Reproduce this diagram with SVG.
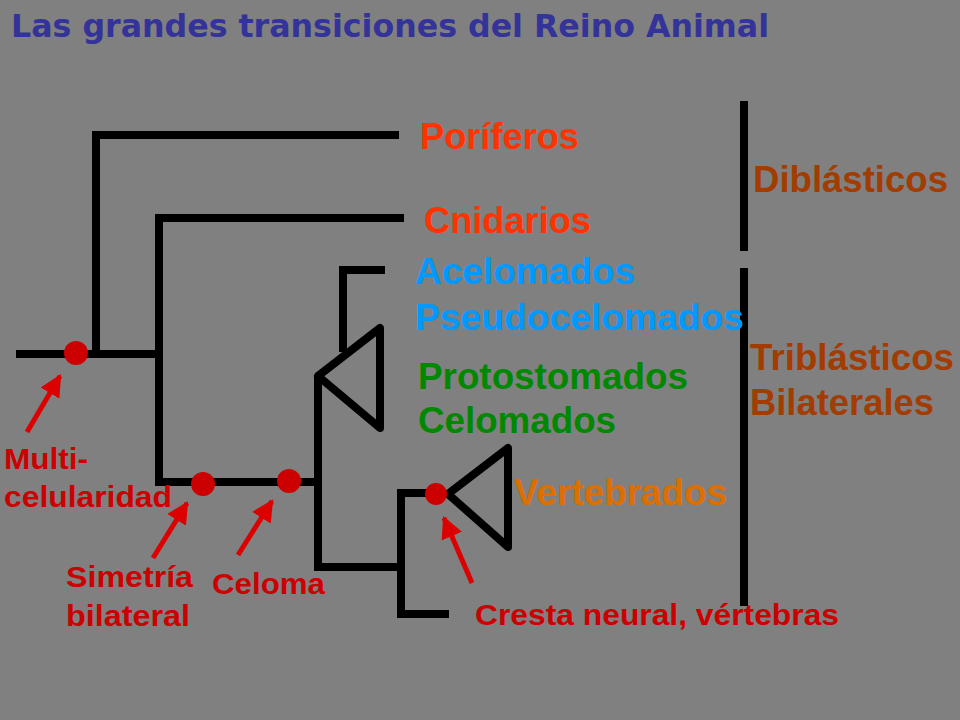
<svg xmlns="http://www.w3.org/2000/svg" width="960" height="720" viewBox="0 0 960 720">
<defs>
<style>
.br{fill:none;stroke:#000;stroke-width:8;stroke-linecap:square;stroke-linejoin:miter}
.tri{fill:none;stroke:#000;stroke-width:8;stroke-linejoin:round;stroke-linecap:round}
.big{font-family:"Liberation Sans",Arial,sans-serif;font-weight:bold;font-size:36px}
.red{font-family:"Liberation Sans",Arial,sans-serif;font-weight:bold;font-size:29px;fill:#cc0000}
.dot{fill:#cc0000}
.arr{stroke:#dd0000;stroke-width:5;fill:none;marker-end:url(#ah)}
</style>
<marker id="ah" viewBox="0 0 10 10" refX="9" refY="5" markerWidth="4.4" markerHeight="4.4" orient="auto" markerUnits="strokeWidth">
<path d="M0,0 L10,5 L0,10 z" fill="#dd0000"/>
</marker>
</defs>
<rect x="0" y="0" width="960" height="720" fill="#808080"/>
<text x="11" y="37" font-family="DejaVu Sans, Verdana, sans-serif" font-weight="bold" font-size="32" fill="#333399" textLength="758" lengthAdjust="spacingAndGlyphs">Las grandes transiciones del Reino Animal</text>

<g id="connectors">
<path class="br" d="M20,354 H158"/>
<path class="br" d="M96,354 V135 H395"/>
<path class="br" d="M159,354 V218 H400"/>
<path class="br" d="M159,354 V482 H316"/>
<path class="br" d="M318,380 V567 H398"/>
<path class="br" d="M343,348 V270 H381"/>
<path class="br" d="M401,567 V493 H430"/>
<path class="br" d="M401,567 V614 H445"/>
<polygon class="tri" points="318,376 380,328 380,428"/>
<polygon class="tri" points="448,494 508,448 508,547"/>
<path class="br" d="M744,105 V247" stroke-linecap="butt"/>
<path class="br" d="M744,272 V602" stroke-linecap="butt"/>
<path class="arr" d="M27,432 L60,376"/>
<path class="arr" d="M153,558 L187,503"/>
<path class="arr" d="M238,555 L272,501"/>
<path class="arr" d="M472,583 L444,518"/>
</g>

<g id="markers">
<circle class="dot" cx="76" cy="353" r="12"/>
<circle class="dot" cx="203" cy="484" r="12"/>
<circle class="dot" cx="289" cy="481" r="12"/>
<circle class="dot" cx="436" cy="494" r="11"/>
</g>

<g id="n-poriferos"><text class="big" x="420" y="149" fill="#ff3300" textLength="159" lengthAdjust="spacingAndGlyphs">Poríferos</text></g>
<g id="n-cnidarios"><text class="big" x="424" y="233" fill="#ff3300" textLength="167" lengthAdjust="spacingAndGlyphs">Cnidarios</text></g>
<g id="n-acelomados"><text class="big" x="415" y="284" fill="#0099ff" textLength="220" lengthAdjust="spacingAndGlyphs">Acelomados</text>
<text class="big" x="415" y="330" fill="#0099ff" textLength="329" lengthAdjust="spacingAndGlyphs">Pseudocelomados</text></g>
<g id="n-protostomados"><text class="big" x="418" y="389" fill="#008800" textLength="270" lengthAdjust="spacingAndGlyphs">Protostomados</text>
<text class="big" x="418" y="433" fill="#008800" textLength="198" lengthAdjust="spacingAndGlyphs">Celomados</text></g>
<g id="n-vertebrados"><text class="big" x="514" y="505" fill="#dd6e00" textLength="213" lengthAdjust="spacingAndGlyphs">Vertebrados</text></g>
<g id="n-diblasticos"><text class="big" x="753" y="192" fill="#a33c00" textLength="195" lengthAdjust="spacingAndGlyphs">Diblásticos</text></g>
<g id="n-triblasticos"><text class="big" x="750" y="370" fill="#a33c00" textLength="204" lengthAdjust="spacingAndGlyphs">Triblásticos</text>
<text class="big" x="750" y="415" fill="#a33c00" textLength="184" lengthAdjust="spacingAndGlyphs">Bilaterales</text></g>

<g id="l-multi"><text class="red" x="4" y="469" textLength="84" lengthAdjust="spacingAndGlyphs">Multi-</text>
<text class="red" x="4" y="507" textLength="168" lengthAdjust="spacingAndGlyphs">celularidad</text></g>
<g id="l-simetria"><text class="red" x="66" y="587" textLength="127" lengthAdjust="spacingAndGlyphs">Simetría</text>
<text class="red" x="66" y="626" textLength="124" lengthAdjust="spacingAndGlyphs">bilateral</text></g>
<g id="l-celoma"><text class="red" x="212" y="594" textLength="113" lengthAdjust="spacingAndGlyphs">Celoma</text></g>
<g id="l-cresta"><text class="red" x="475" y="625" textLength="364" lengthAdjust="spacingAndGlyphs">Cresta neural, vértebras</text></g>
</svg>
